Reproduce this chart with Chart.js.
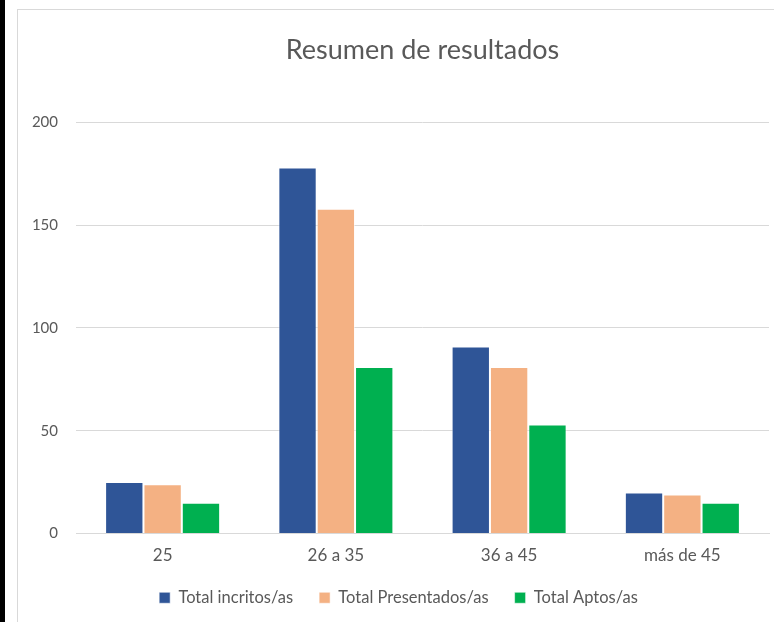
<!DOCTYPE html>
<html>
<head>
<meta charset="utf-8">
<script src="https://cdn.jsdelivr.net/npm/chart.js@4.4.1/dist/chart.umd.min.js"></script>
<style>
  html, body { margin: 0; padding: 0; background: #fff; overflow: hidden; }
  body { width: 774px; height: 622px; position: relative; }
  .borde { position: absolute; left: 0; top: 0; width: 5px; height: 622px; background: #000; }
  .marco { position: absolute; left: 17px; top: 9px; width: 800px; height: 700px; border-left: 1px solid #d9d9d9; border-top: 1px solid #d9d9d9; }
  .caja { position: absolute; left: 18px; top: 10px; width: 756px; height: 612px; }
</style>
</head>
<body>
<div class="borde"></div>
<div class="marco"></div>
<div class="caja"><canvas id="chartResumen" width="756" height="612"></canvas></div>
<script>
// datos
const categorias = ['25', '26 a 35', '36 a 45', 'más de 45'];
const inscritos = [25, 178, 91, 20];
const presentados = [24, 158, 81, 19];
const aptos = [15, 81, 53, 15];
const ticksY = [0, 50, 100, 150, 200];

const gris = '#595959';
const fuente = 'Lato, "Liberation Sans", sans-serif';

new Chart(document.getElementById('chartResumen'), {
    type: 'bar',
    data: {
        labels: categorias,
        datasets: [
            { label: 'Total incritos/as', data: inscritos, backgroundColor: '#2F5597' },
            { label: 'Total Presentados/as', data: presentados, backgroundColor: '#F4B183' },
            { label: 'Total Aptos/as', data: aptos, backgroundColor: '#00B050' }
        ]
    },
    options: {
        responsive: false,
        animation: false,
        layout: { padding: { left: 10, right: 5, top: 0, bottom: 6 } },
        datasets: { bar: { categoryPercentage: 0.664, barPercentage: 1.0, borderWidth: 1, borderColor: 'rgba(255,255,255,.55)' } },
        plugins: {
            title: {
                display: true, text: 'Resumen de resultados', fullSize: false,
                color: gris, font: { family: fuente, size: 27, weight: 'normal' },
                padding: { top: 24, bottom: 56 }
            },
            legend: {
                position: 'bottom',
                labels: { color: gris, font: { family: fuente, size: 16.5 }, boxWidth: 11, boxHeight: 11, padding: 26 }
            },
            tooltip: { enabled: false }
        },
        scales: {
            x: {
                afterFit: (s) => { s.height = 30; },
                grid: { display: false, drawTicks: false },
                border: { color: '#d9d9d9', width: 1 },
                ticks: { color: gris, font: { family: fuente, size: 17 }, padding: 12 }
            },
            y: {
                min: ticksY[0], max: ticksY[ticksY.length - 1],
                afterBuildTicks: (s) => { s.ticks = ticksY.map(v => ({ value: v })); },
                afterFit: (s) => { s.width = 48; },
                grid: { color: '#d9d9d9', drawTicks: false },
                border: { display: false },
                ticks: { color: gris, font: { family: fuente, size: 15 }, padding: 18 }
            }
        }
    }
});
</script>
</body>
</html>
